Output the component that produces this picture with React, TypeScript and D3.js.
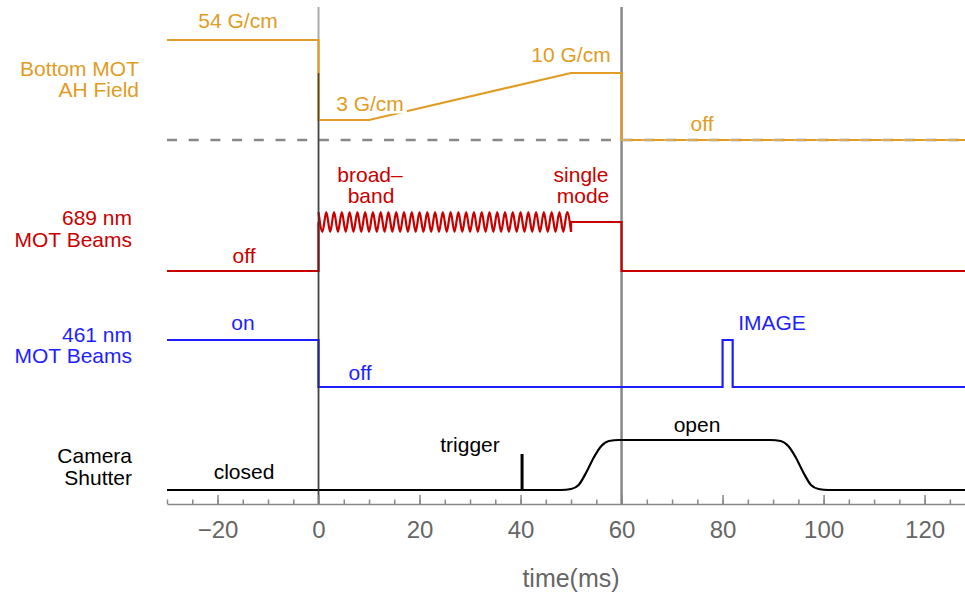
import React, { useEffect, useRef } from "react";
import * as d3 from "d3";

// Time axis (ms)
const timeDomain: [number, number] = [-30, 128];
const majorTicks = [-20, 0, 20, 40, 60, 80, 100, 120];
const minorTicks = d3.range(-30, 128, 5);
const markerTimes = [0, 60];

// Bottom MOT anti-Helmholtz field gradient (G/cm)
const fieldTimes = [-30, 0, 0, 10, 50, 60, 60, 128];
const fieldValues = [54, 54, 3, 3, 10, 10, 0, 0];
const fieldLevels = [0, 3, 10, 54];

// 689 nm MOT beams (0 = off, 1 = single mode)
const redTimes = [-30, 0, 0];
const redValues = [0, 0, 1];
const redTailTimes = [50, 50, 60, 60, 128];
const redTailValues = [0.8, 1, 1, 0, 0];
const broadbandWindow: [number, number] = [0, 50];
const broadbandHalfCycles = 65;
const broadbandDepth = 0.2;

// 461 nm MOT beams (0 = off, 1 = on)
const blueTimes = [-30, 0, 0, 80, 80, 82, 82, 128];
const blueValues = [1, 1, 0, 0, 1, 1, 0, 0];

// Camera shutter (0 = closed, 1 = open)
const shutterTimes = [
  -30, 48, 50, 51.5, 53, 54.5, 56, 57.5, 59.5, 89.5, 91.5, 93, 94.5, 96, 97.5, 99, 101, 128,
];
const shutterValues = [
  0, 0, 0.02, 0.1, 0.35, 0.65, 0.88, 0.98, 1, 1, 0.98, 0.88, 0.65, 0.35, 0.1, 0.02, 0, 0,
];
const triggerTime = 40.3;
const triggerHeight = 0.72;

const FONT = "'Liberation Sans', Arial, Helvetica, sans-serif";
const ORANGE = "#e19c24";
const RED = "#c80000";
const BLUE = "#1e1eff";
const BLACK = "#000000";

const zip = (t: number[], v: number[]) => t.map((d, i) => [d, v[i]] as [number, number]);

export default function App() {
  const axisRef = useRef<SVGGElement>(null);

  const x = d3.scaleLinear().domain(timeDomain).range([167, 965]);
  const yField = d3.scaleLinear().domain(fieldLevels).range([140, 120, 73, 40]);
  const yRed = d3.scaleLinear().domain([0, 1]).range([271, 222]);
  const yBlue = d3.scaleLinear().domain([0, 1]).range([387, 340]);
  const yShutter = d3.scaleLinear().domain([0, 1]).range([490, 440]);
  const axisY = 504;
  const topY = 7;

  const lineOf = (y: d3.ScaleLinear<number, number>, curve: d3.CurveFactory = d3.curveLinear) =>
    d3
      .line<[number, number]>()
      .x((d) => x(d[0]))
      .y((d) => y(d[1]))
      .curve(curve);

  // broadband modulation: alternating extremes around the single-mode level
  const step = (broadbandWindow[1] - broadbandWindow[0]) / broadbandHalfCycles;
  const broadband: [number, number][] = d3
    .range(broadbandHalfCycles + 1)
    .map((k) => [broadbandWindow[0] + k * step, 1 + (k % 2 === 0 ? broadbandDepth : -broadbandDepth)]);

  useEffect(() => {
    if (!axisRef.current) return;
    const g = d3.select(axisRef.current);
    g.selectAll("*").remove();
    const minor = g.append("g");
    minor.call(
      d3.axisBottom(x).tickValues(minorTicks).tickSizeInner(-4.5).tickSizeOuter(0).tickFormat(() => "")
    );
    const major = g.append("g");
    major.call(
      d3
        .axisBottom(x)
        .tickValues(majorTicks)
        .tickSizeInner(-9)
        .tickSizeOuter(0)
        .tickPadding(17)
        .tickFormat((d) => {
          const n = d as number;
          return n < 0 ? "\u2212" + Math.abs(n) : String(n);
        })
    );
    g.selectAll(".domain").attr("stroke", "#888").attr("stroke-width", 1.5);
    g.selectAll(".tick line").attr("stroke", "#888").attr("stroke-width", 1.5);
    g.selectAll(".tick text")
      .attr("fill", "#666")
      .attr("font-size", 24)
      .attr("font-family", FONT);
    minor.select(".domain").remove();
  });

  const label = (
    t: string,
    xx: number,
    yy: number,
    color: string,
    anchor: "start" | "middle" | "end" = "middle"
  ) => (
    <text x={xx} y={yy} fill={color} fontSize={21} fontFamily={FONT} textAnchor={anchor}>
      {t}
    </text>
  );

  return (
    <svg
      width={965}
      height={595}
      style={{ position: "absolute", left: 0, top: 0, background: "#fff" }}
    >
      {/* phase markers */}
      <line x1={x(markerTimes[0])} x2={x(markerTimes[0])} y1={topY} y2={axisY} stroke="#aaa" strokeWidth={2} />
      <line x1={x(markerTimes[1])} x2={x(markerTimes[1])} y1={topY} y2={axisY} stroke="#888" strokeWidth={2.5} />

      {/* zero-field reference */}
      <line
        x1={x(timeDomain[0])}
        x2={x(timeDomain[1])}
        y1={yField(0)}
        y2={yField(0)}
        stroke="#888"
        strokeWidth={2.5}
        strokeDasharray="10,11.7"
      />

      {/* Bottom MOT field */}
      <path d={lineOf(yField)(zip(fieldTimes, fieldValues)) ?? ""} fill="none" stroke={ORANGE} strokeWidth={2.2} />
      <line
        x1={x(60)}
        x2={x(timeDomain[1])}
        y1={yField(0)}
        y2={yField(0)}
        stroke="#ccc"
        strokeOpacity={0.35}
        strokeWidth={2.5}
        strokeDasharray="10,11.7"
        strokeDashoffset={-((x(60) - x(timeDomain[0])) % 21.7)}
      />

      {/* 689 nm beams */}
      <path d={lineOf(yRed)(zip(redTimes, redValues)) ?? ""} fill="none" stroke={RED} strokeWidth={2.2} />
      <path d={lineOf(yRed, d3.curveMonotoneX)(broadband) ?? ""} fill="none" stroke={RED} strokeWidth={2.2} />
      <path d={lineOf(yRed)(zip(redTailTimes, redTailValues)) ?? ""} fill="none" stroke={RED} strokeWidth={2.2} />

      {/* 461 nm beams */}
      <path d={lineOf(yBlue)(zip(blueTimes, blueValues)) ?? ""} fill="none" stroke={BLUE} strokeWidth={2.2} />

      {/* camera shutter */}
      <path
        d={lineOf(yShutter, d3.curveMonotoneX)(zip(shutterTimes, shutterValues)) ?? ""}
        fill="none"
        stroke={BLACK}
        strokeWidth={2.2}
      />
      <line
        x1={x(triggerTime)}
        x2={x(triggerTime)}
        y1={yShutter(0)}
        y2={yShutter(triggerHeight)}
        stroke={BLACK}
        strokeWidth={3}
      />

      {/* dark part of the t = 0 marker */}
      <line x1={x(0)} x2={x(0)} y1={yField(10)} y2={axisY} stroke="#333" strokeOpacity={0.85} strokeWidth={1.5} />

      {/* time axis */}
      <g ref={axisRef} transform={`translate(0,${axisY})`} />
      <text x={571} y={587} fill="#666" fontSize={25} fontFamily={FONT} textAnchor="middle">
        time(ms)
      </text>

      {/* channel names */}
      {label("Bottom MOT", 139, 76, ORANGE, "end")}
      {label("AH Field", 139, 97, ORANGE, "end")}
      {label("689 nm", 132, 225, RED, "end")}
      {label("MOT Beams", 132, 247, RED, "end")}
      {label("461 nm", 132, 342, BLUE, "end")}
      {label("MOT Beams", 132, 363, BLUE, "end")}
      {label("Camera", 132, 463, BLACK, "end")}
      {label("Shutter", 132, 485, BLACK, "end")}

      {/* field annotations */}
      {label("54 G/cm", 238, 28, ORANGE)}
      <rect x={332} y={92} width={75} height={21.5} fill="#fff" />
      {label("3 G/cm", 370, 111, ORANGE)}
      {label("10 G/cm", 571, 62, ORANGE)}
      {label("off", 702, 131, ORANGE)}

      {/* 689 annotations */}
      {label("broad\u2013", 370, 182, RED)}
      {label("band", 371, 203, RED)}
      {label("single", 581, 182, RED)}
      {label("mode", 583, 203, RED)}
      {label("off", 244, 263, RED)}

      {/* 461 annotations */}
      {label("on", 243, 330, BLUE)}
      {label("off", 360, 380, BLUE)}
      {label("IMAGE", 772, 330, BLUE)}

      {/* shutter annotations */}
      {label("closed", 244, 479, BLACK)}
      {label("trigger", 470, 452, BLACK)}
      {label("open", 697, 432, BLACK)}
    </svg>
  );
}
